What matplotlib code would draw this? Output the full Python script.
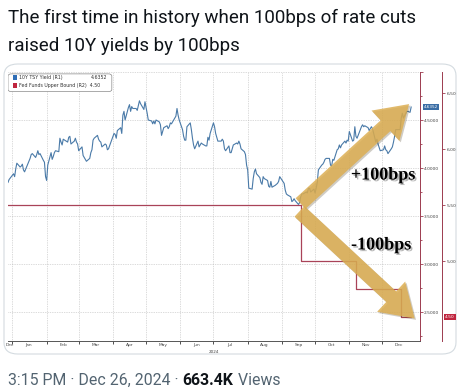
import matplotlib
matplotlib.use("Agg")
import matplotlib.pyplot as plt
import matplotlib.dates as mdates
import matplotlib.patheffects as pe
from matplotlib.patches import FancyBboxPatch, Rectangle
import numpy as np

# text of the tweet
title_lines = ["The first time in history when 100bps of rate cuts",
               "raised 10Y yields by 100bps"]
footer_time = "3:15 PM \u00b7 Dec 26, 2024 \u00b7 "
footer_views = "663.4K"
footer_tail = " Views"

# 10Y treasury yield (R1)
yield_dates = [
    "2023-12-28", "2023-12-29",
    "2024-01-02", "2024-01-03", "2024-01-04", "2024-01-05", "2024-01-08", "2024-01-09", "2024-01-10",
    "2024-01-11", "2024-01-12", "2024-01-16", "2024-01-17", "2024-01-18", "2024-01-19", "2024-01-22",
    "2024-01-23", "2024-01-24", "2024-01-25", "2024-01-26", "2024-01-29", "2024-01-30", "2024-01-31",
    "2024-02-01", "2024-02-02", "2024-02-05", "2024-02-06", "2024-02-07", "2024-02-08", "2024-02-09",
    "2024-02-12", "2024-02-13", "2024-02-14", "2024-02-15", "2024-02-16", "2024-02-20", "2024-02-21",
    "2024-02-22", "2024-02-23", "2024-02-26", "2024-02-27", "2024-02-28", "2024-02-29",
    "2024-03-01", "2024-03-04", "2024-03-05", "2024-03-06", "2024-03-07", "2024-03-08", "2024-03-11",
    "2024-03-12", "2024-03-13", "2024-03-14", "2024-03-15", "2024-03-18", "2024-03-19", "2024-03-20",
    "2024-03-21", "2024-03-22", "2024-03-25", "2024-03-26", "2024-03-27", "2024-03-28",
    "2024-04-01", "2024-04-02", "2024-04-03", "2024-04-04", "2024-04-05", "2024-04-08", "2024-04-09",
    "2024-04-10", "2024-04-11", "2024-04-12", "2024-04-15", "2024-04-16", "2024-04-17", "2024-04-18",
    "2024-04-19", "2024-04-22", "2024-04-23", "2024-04-24", "2024-04-25", "2024-04-26", "2024-04-29",
    "2024-04-30",
    "2024-05-01", "2024-05-02", "2024-05-03", "2024-05-06", "2024-05-07", "2024-05-08", "2024-05-09",
    "2024-05-10", "2024-05-13", "2024-05-14", "2024-05-15", "2024-05-16", "2024-05-17", "2024-05-20",
    "2024-05-21", "2024-05-22", "2024-05-23", "2024-05-24", "2024-05-28", "2024-05-29", "2024-05-30",
    "2024-05-31",
    "2024-06-03", "2024-06-04", "2024-06-05", "2024-06-06", "2024-06-07", "2024-06-10", "2024-06-11",
    "2024-06-12", "2024-06-13", "2024-06-14", "2024-06-17", "2024-06-18", "2024-06-20", "2024-06-21",
    "2024-06-24", "2024-06-25", "2024-06-26", "2024-06-27", "2024-06-28",
    "2024-07-01", "2024-07-02", "2024-07-03", "2024-07-05", "2024-07-08", "2024-07-09", "2024-07-10",
    "2024-07-11", "2024-07-12", "2024-07-15", "2024-07-16", "2024-07-17", "2024-07-18", "2024-07-19",
    "2024-07-22", "2024-07-23", "2024-07-24", "2024-07-25", "2024-07-26", "2024-07-29", "2024-07-30",
    "2024-07-31",
    "2024-08-01", "2024-08-02", "2024-08-05", "2024-08-06", "2024-08-07", "2024-08-08", "2024-08-09",
    "2024-08-12", "2024-08-13", "2024-08-14", "2024-08-15", "2024-08-16", "2024-08-19", "2024-08-20",
    "2024-08-21", "2024-08-22", "2024-08-23", "2024-08-26", "2024-08-27", "2024-08-28", "2024-08-29",
    "2024-08-30",
    "2024-09-03", "2024-09-04", "2024-09-05", "2024-09-06", "2024-09-09", "2024-09-10", "2024-09-11",
    "2024-09-12", "2024-09-13", "2024-09-16", "2024-09-17", "2024-09-18", "2024-09-19", "2024-09-20",
    "2024-09-23", "2024-09-24", "2024-09-25", "2024-09-26", "2024-09-27", "2024-09-30",
    "2024-10-01", "2024-10-02", "2024-10-03", "2024-10-04", "2024-10-07", "2024-10-08", "2024-10-09",
    "2024-10-10", "2024-10-11", "2024-10-14", "2024-10-15", "2024-10-16", "2024-10-17", "2024-10-18",
    "2024-10-21", "2024-10-22", "2024-10-23", "2024-10-24", "2024-10-25", "2024-10-28", "2024-10-29",
    "2024-10-30", "2024-10-31",
    "2024-11-01", "2024-11-04", "2024-11-05", "2024-11-06", "2024-11-07", "2024-11-08", "2024-11-12",
    "2024-11-13", "2024-11-14", "2024-11-15", "2024-11-18", "2024-11-19", "2024-11-20", "2024-11-21",
    "2024-11-22", "2024-11-25", "2024-11-26", "2024-11-27", "2024-11-29",
    "2024-12-02", "2024-12-03", "2024-12-04", "2024-12-05", "2024-12-06", "2024-12-09", "2024-12-10",
    "2024-12-11", "2024-12-12", "2024-12-13", "2024-12-16", "2024-12-17", "2024-12-18", "2024-12-19",
    "2024-12-20", "2024-12-23", "2024-12-24", "2024-12-26", "2024-12-27",
]
yield_values = [
    3.85, 3.88,
    3.94, 3.91, 3.99, 4.05, 4.01, 4.02, 4.04, 3.98, 3.96, 4.07, 4.10, 4.14, 4.15, 4.11,
    4.14, 4.18, 4.14, 4.15, 4.08, 4.06, 3.91,
    3.87, 4.03, 4.16, 4.09, 4.12, 4.16, 4.18, 4.17, 4.31, 4.27, 4.24, 4.30, 4.27, 4.32,
    4.33, 4.25, 4.28, 4.31, 4.27, 4.25,
    4.18, 4.22, 4.13, 4.11, 4.09, 4.07, 4.10, 4.16, 4.19, 4.29, 4.31, 4.34, 4.30, 4.28,
    4.27, 4.22, 4.25, 4.24, 4.19, 4.20,
    4.33, 4.36, 4.35, 4.31, 4.39, 4.42, 4.36, 4.55, 4.59, 4.50, 4.63, 4.66, 4.59, 4.64,
    4.62, 4.62, 4.60, 4.65, 4.70, 4.67, 4.61, 4.69,
    4.63, 4.57, 4.50, 4.49, 4.46, 4.49, 4.46, 4.50, 4.48, 4.45, 4.34, 4.38, 4.42, 4.44,
    4.41, 4.43, 4.47, 4.46, 4.54, 4.62, 4.55, 4.50,
    4.40, 4.33, 4.29, 4.29, 4.43, 4.47, 4.40, 4.31, 4.24, 4.20, 4.28, 4.22, 4.26, 4.25,
    4.23, 4.23, 4.32, 4.29, 4.36,
    4.47, 4.43, 4.36, 4.28, 4.28, 4.30, 4.28, 4.20, 4.18, 4.23, 4.16, 4.16, 4.20, 4.24,
    4.26, 4.25, 4.28, 4.25, 4.20, 4.17, 4.14, 4.03,
    3.98, 3.79, 3.78, 3.89, 3.96, 3.99, 3.94, 3.90, 3.85, 3.83, 3.91, 3.89, 3.87, 3.81,
    3.80, 3.86, 3.80, 3.82, 3.83, 3.84, 3.86, 3.91,
    3.84, 3.77, 3.73, 3.72, 3.70, 3.65, 3.66, 3.68, 3.66, 3.62, 3.64, 3.70, 3.73, 3.73,
    3.75, 3.74, 3.79, 3.79, 3.75, 3.78,
    3.74, 3.79, 3.85, 3.98, 4.03, 4.04, 4.06, 4.09, 4.10, 4.10, 4.03, 4.02, 4.09, 4.08,
    4.19, 4.20, 4.24, 4.21, 4.24, 4.28, 4.26, 4.29, 4.28,
    4.38, 4.28, 4.29, 4.43, 4.33, 4.31, 4.43, 4.45, 4.43, 4.44, 4.42, 4.39, 4.41, 4.43,
    4.41, 4.27, 4.30, 4.25, 4.18,
    4.19, 4.23, 4.19, 4.18, 4.15, 4.20, 4.22, 4.27, 4.33, 4.40, 4.40, 4.40, 4.52, 4.57,
    4.52, 4.59, 4.59, 4.58, 4.6352,
]

# fed funds upper bound (R2)
fed_dates = ["2023-12-28", "2024-09-18", "2024-11-07", "2024-12-18", "2024-12-27"]
fed_values = [5.50, 5.00, 4.75, 4.50, 4.50]

month_labels = ["Dec", "Jan", "Feb", "Mar", "Apr", "May", "Jun", "Jul", "Aug", "Sep", "Oct", "Nov", "Dec"]
r1_ticks = [2.5, 3.0, 3.5, 4.0, 4.5, 5.0]
r2_ticks = [5.0, 5.5, 6.0, 6.5]

W, H = 462, 389
fig = plt.figure(figsize=(W / 100, H / 100), dpi=100)

def px_rect(x0, y0, x1, y1):
    return [x0 / W, 1 - y1 / H, (x1 - x0) / W, (y1 - y0) / H]

ydates = np.array(yield_dates, dtype="datetime64[D]")
fdates = np.array(fed_dates, dtype="datetime64[D]")

# rounded frame of the embedded picture
frame = FancyBboxPatch((4 / W, 1 - 354 / H), 452 / W, 290 / H,
                       boxstyle="round,pad=0,rounding_size=0.03",
                       transform=fig.transFigure, facecolor="none",
                       edgecolor="#d4dbe0", lw=0.8, zorder=-1)
fig.patches.append(frame)

# tweet text
title_font = "Roboto"
fig.text(8 / W, 1 - 18 / H, title_lines[0], fontsize=13.5, family=title_font,
         color="#0f1419", va="center", ha="left")
fig.text(8 / W, 1 - 46 / H, title_lines[1], fontsize=13.5, family=title_font,
         color="#0f1419", va="center", ha="left")

renderer = fig.canvas.get_renderer()
fy = 1 - 385 / H
t1 = fig.text(8 / W, fy, footer_time, fontsize=11.4, family=title_font,
              color="#536471", va="baseline")
x1 = t1.get_window_extent(renderer).x1
t2 = fig.text(x1 / W, fy, footer_views, fontsize=11.4, family=title_font,
              color="#0f1419", weight="bold", va="baseline")
x2 = t2.get_window_extent(renderer).x1
fig.text(x2 / W, fy, footer_tail, fontsize=11.4, family=title_font,
         color="#536471", va="baseline")

# main chart
ax = fig.add_axes(px_rect(8, 72, 420, 341))
ax.plot(ydates, yield_values, color="#4a7aa8", lw=0.8, zorder=3)
ax.set_ylim(2.198, 5.0)
ax.set_xlim(np.datetime64("2023-12-28"), np.datetime64("2025-01-04"))

# fed funds on second right axis
ax2 = ax.twinx()
ax2.plot(fdates, fed_values, color="#a94358", lw=0.9, drawstyle="steps-post", zorder=3)
ax2.set_ylim(4.286, 6.6875)

axis_red = "#9c3b4f"
ax.yaxis.tick_right()
ax.set_yticks(r1_ticks)
ax.set_yticklabels(["%.4f" % v if v < 5 else "" for v in r1_ticks])
ax.set_yticks(np.arange(2.25, 5.0, 0.5), minor=True)
ax.tick_params(axis="y", which="both", colors=axis_red, labelcolor="#444444",
               labelsize=3.2, length=2, width=0.6, pad=1)
ax.tick_params(axis="y", which="minor", length=1.5)

month_starts = np.arange(np.datetime64("2024-01"), np.datetime64("2025-01"),
                         dtype="datetime64[M]").astype("datetime64[D]")
label_pos = [np.datetime64("2023-12-30")] + list(month_starts + 15)
ax.set_xticks(month_starts)
ax.set_xticklabels([])
ax.set_xticks(label_pos, minor=True)
ax.set_xticklabels(month_labels, minor=True)
ax.tick_params(axis="x", which="major", length=2.5, width=0.6, color="#333333")
ax.tick_params(axis="x", which="minor", length=0, labelsize=3.2, pad=1.5,
               labelcolor="#444444")
ax.text(mdates.date2num(np.datetime64("2024-07-01")), -0.035, "2024",
        transform=ax.get_xaxis_transform(), fontsize=3.0,
        color="#444444", ha="center", va="top")

ax.grid(True, which="major", ls=(0, (1, 1.5)), color="#b8b8b8", lw=0.5)
for side in ["left", "top"]:
    ax.spines[side].set_visible(False)
ax.spines["right"].set_color(axis_red)
ax.spines["right"].set_linewidth(0.7)
ax.spines["bottom"].set_color("#555555")
ax.spines["bottom"].set_linewidth(0.7)

ax2.set_yticks(r2_ticks)
ax2.set_yticklabels(["%.2f" % v for v in r2_ticks])
ax2.spines["right"].set_position(("outward", 16))
for side in ["left", "top", "bottom"]:
    ax2.spines[side].set_visible(False)
ax2.spines["right"].set_color(axis_red)
ax2.spines["right"].set_linewidth(0.7)
ax2.tick_params(axis="y", colors=axis_red, labelcolor="#444444", labelsize=3.2,
                length=2, width=0.6, pad=1)

# last value tags
ax.annotate("%.4f" % yield_values[-1], xy=(1.0, yield_values[-1]),
            xycoords=ax.get_yaxis_transform(), xytext=(3, 0), textcoords="offset points",
            fontsize=3.0, color="white", va="center", ha="left",
            bbox=dict(boxstyle="square,pad=0.25", fc="#3b6ea5", ec="none"))
ax2.annotate("%.2f" % fed_values[-1], xy=(1.0, fed_values[-1]),
             xycoords=ax2.get_yaxis_transform(), xytext=(18, 0), textcoords="offset points",
             fontsize=3.2, color="white", va="center", ha="left",
             bbox=dict(boxstyle="square,pad=0.25", fc="#c0263f", ec="none"))

# legend
leg_box = FancyBboxPatch((0.0, 0.927), 0.252, 0.066,
                         boxstyle="round,pad=0,rounding_size=0.008",
                         transform=ax.transAxes, fc="white", ec="#888888", lw=0.5, zorder=5)
ax.add_patch(leg_box)
ax.add_patch(Rectangle((0.011, 0.969), 0.011, 0.018, transform=ax.transAxes,
                       fc="#2f6db5", ec="none", zorder=6))
ax.add_patch(Rectangle((0.011, 0.942), 0.011, 0.018, transform=ax.transAxes,
                       fc="#c0263f", ec="none", zorder=6))
ax.text(0.027, 0.978, "10Y TSY Yield (R1)", transform=ax.transAxes, fontsize=3.4,
        color="#333333", va="center", zorder=6)
ax.text(0.242, 0.978, "%.4f" % yield_values[-1], transform=ax.transAxes, fontsize=3.4,
        color="#333333", va="center", ha="right", zorder=6)
ax.text(0.027, 0.951, "Fed Funds Upper Bound (R2)  %.2f" % fed_values[-1],
        transform=ax.transAxes, fontsize=3.4, color="#333333", va="center", zorder=6)

# golden arrows
low_i = int(np.argmin(yield_values))
gold = "#dcae52"
shadow = [pe.SimplePatchShadow(offset=(1, -1), alpha=0.25), pe.Normal()]
arrow_style = "simple,head_width=2.7,head_length=2.1,tail_width=0.95"
ax2.annotate("", xy=(ydates[-1], yield_values[-1] + 0.05), xycoords=ax.transData,
             xytext=(ydates[low_i], yield_values[low_i] - 0.01), textcoords=ax.transData,
             arrowprops=dict(arrowstyle=arrow_style, mutation_scale=11, fc=gold,
                             ec="none", alpha=0.85, path_effects=shadow), zorder=6)
ax2.annotate("", xy=(ydates[-1] + 5, fed_values[-1] - 0.03), xycoords=ax2.transData,
             xytext=(fdates[1] - 3, fed_values[0] - 0.04), textcoords=ax2.transData,
             arrowprops=dict(arrowstyle=arrow_style, mutation_scale=11, fc=gold,
                             ec="none", alpha=0.85, path_effects=shadow), zorder=6)

txt_fx = [pe.SimplePatchShadow(offset=(1.2, -1.2), shadow_rgbFace="#888888", alpha=0.6), pe.Normal()]
ax2.text(0.91, 0.617, "+100bps", transform=ax.transAxes, fontsize=13,
         family="Liberation Serif", weight="bold", color="black", ha="center",
         va="center", path_effects=txt_fx, zorder=7)
ax2.text(0.905, 0.357, "-100bps", transform=ax.transAxes, fontsize=13,
         family="Liberation Serif", weight="bold", color="black", ha="center",
         va="center", path_effects=txt_fx, zorder=7)

fig.savefig("out.png", dpi=100)
